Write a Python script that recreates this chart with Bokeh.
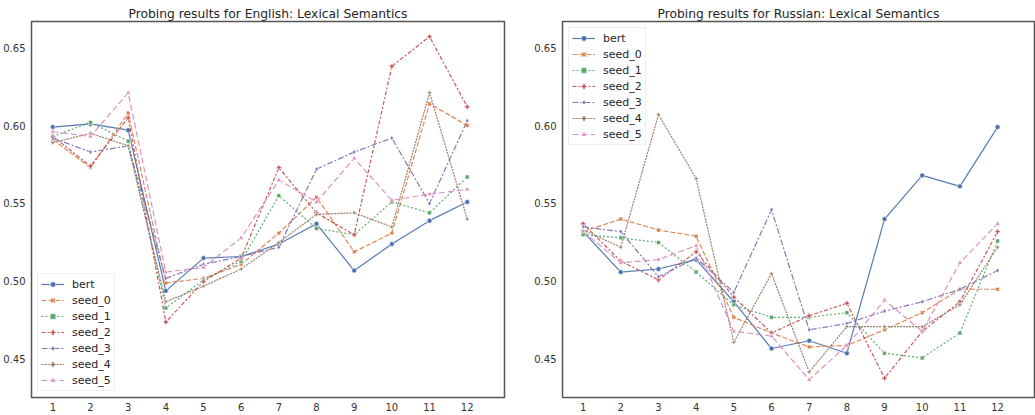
from bokeh.plotting import figure
from bokeh.layouts import row
from bokeh.models import Range1d, FixedTicker, Legend, LegendItem, CustomJSTickFormatter
from bokeh.embed import file_html
from bokeh.resources import INLINE

layers = [1, 2, 3, 4, 5, 6, 7, 8, 9, 10, 11, 12]
series_names = ["bert", "seed_0", "seed_1", "seed_2", "seed_3", "seed_4", "seed_5"]

en_bert   = [0.599, 0.601, 0.597, 0.494, 0.515, 0.516, 0.524, 0.537, 0.507, 0.524, 0.539, 0.551]
en_seed_0 = [0.591, 0.573, 0.608, 0.499, 0.502, 0.511, 0.531, 0.554, 0.519, 0.531, 0.614, 0.600]
en_seed_1 = [0.593, 0.602, 0.590, 0.483, 0.501, 0.513, 0.555, 0.534, 0.530, 0.551, 0.544, 0.567]
en_seed_2 = [0.593, 0.574, 0.605, 0.474, 0.500, 0.515, 0.573, 0.544, 0.530, 0.638, 0.657, 0.612]
en_seed_3 = [0.592, 0.583, 0.587, 0.502, 0.511, 0.516, 0.522, 0.572, 0.583, 0.592, 0.550, 0.603]
en_seed_4 = [0.589, 0.595, 0.587, 0.487, 0.497, 0.508, 0.525, 0.543, 0.544, 0.535, 0.621, 0.540]
en_seed_5 = [0.596, 0.593, 0.621, 0.506, 0.509, 0.528, 0.565, 0.551, 0.579, 0.552, 0.556, 0.559]

ru_bert   = [0.532, 0.506, 0.508, 0.514, 0.487, 0.457, 0.462, 0.454, 0.540, 0.568, 0.561, 0.599]
ru_seed_0 = [0.532, 0.540, 0.533, 0.529, 0.477, 0.467, 0.458, 0.459, 0.469, 0.480, 0.495, 0.495]
ru_seed_1 = [0.530, 0.528, 0.525, 0.506, 0.485, 0.477, 0.477, 0.480, 0.454, 0.451, 0.467, 0.526]
ru_seed_2 = [0.537, 0.513, 0.501, 0.519, 0.490, 0.467, 0.478, 0.486, 0.438, 0.468, 0.487, 0.532]
ru_seed_3 = [0.535, 0.532, 0.503, 0.515, 0.493, 0.546, 0.469, 0.473, 0.481, 0.487, 0.495, 0.507]
ru_seed_4 = [0.533, 0.522, 0.607, 0.566, 0.461, 0.505, 0.442, 0.471, 0.471, 0.471, 0.485, 0.522]
ru_seed_5 = [0.532, 0.512, 0.514, 0.523, 0.468, 0.465, 0.437, 0.459, 0.488, 0.468, 0.512, 0.537]

en_values = [en_bert, en_seed_0, en_seed_1, en_seed_2, en_seed_3, en_seed_4, en_seed_5]
ru_values = [ru_bert, ru_seed_0, ru_seed_1, ru_seed_2, ru_seed_3, ru_seed_4, ru_seed_5]
y_ticks = [0.45, 0.50, 0.55, 0.60, 0.65]
x_ticks = layers

colors = ["#4C72B0", "#DD8452", "#55A868", "#C44E52", "#8172B3", "#937860", "#DA8BC3"]
dashes = ["solid", "5 2", "2 2", "4 2 2 2", "6 2 2 2", "2 1", "6 3"]
markers = ["circle", "x", "square", "plus", "diamond", "plus", "triangle"]
msizes = [5, 4, 4, 5, 5, 4, 5]

FONT = "DejaVu Sans"


def make_fig(title, values, width, left, right, x0, x1, legend_loc):
    p = figure(width=width, height=415, output_backend="svg", toolbar_location=None,
               min_border_left=left, min_border_right=right, min_border_top=21,
               min_border_bottom=18,
               x_range=Range1d(x0, x1), y_range=Range1d(0.4256, 0.6667))
    p.title.text = title
    p.title.align = "center"
    p.title.text_font = FONT
    p.title.text_font_size = "12.3px"
    p.title.text_font_style = "normal"
    p.title.text_color = "#262626"
    p.title.standoff = 2
    p.grid.visible = False
    p.outline_line_color = "#555555"
    p.outline_line_width = 1.5
    p.background_fill_color = "white"
    p.border_fill_color = "white"
    for ax in (p.xaxis[0], p.yaxis[0]):
        ax.axis_line_color = None
        ax.major_tick_line_color = None
        ax.minor_tick_line_color = None
        ax.major_tick_out = 0
        ax.major_tick_in = 0
        ax.major_label_text_font = FONT
        ax.major_label_text_font_size = "10px"
        ax.major_label_text_color = "#333333"
    p.xaxis.ticker = FixedTicker(ticks=x_ticks)
    p.yaxis.ticker = FixedTicker(ticks=y_ticks)
    p.xaxis.major_label_standoff = 5
    p.yaxis.major_label_standoff = 6
    p.yaxis.formatter = CustomJSTickFormatter(code="return tick.toFixed(2);")

    items = []
    for name, vals, c, d, m, s in zip(series_names, values, colors, dashes, markers, msizes):
        r1 = p.line(layers, vals, line_color=c, line_width=1.2, line_dash=d, line_alpha=0.95)
        lw = 1.6 if m == "x" else 0.6
        lc = c if m == "x" else "white"
        r2 = p.scatter(layers, vals, marker=m, size=s, fill_color=c, line_color=lc,
                       line_width=lw)
        items.append(LegendItem(label=name, renderers=[r1, r2]))
    leg = Legend(items=items, location=legend_loc)
    leg.label_text_font = FONT
    leg.label_text_font_size = "11px"
    leg.label_text_color = "#262626"
    leg.glyph_width = 23
    leg.glyph_height = 14
    leg.label_height = 14
    leg.spacing = 2
    leg.padding = 3
    leg.margin = 6
    leg.label_standoff = 8
    leg.border_line_color = "#dddddd"
    leg.border_line_width = 1
    leg.background_fill_alpha = 0.85
    p.add_layout(leg)
    return p


p1 = make_fig("Probing results for English: Lexical Semantics", en_values,
              530, 31, 26, 0.434, 12.99, "bottom_left")
p2 = make_fig("Probing results for Russian: Lexical Semantics", ru_values,
              505, 32, 1, 0.453, 12.98, "top_left")

layout = row(p1, p2)
open("out.html", "w").write(file_html(layout, INLINE))
